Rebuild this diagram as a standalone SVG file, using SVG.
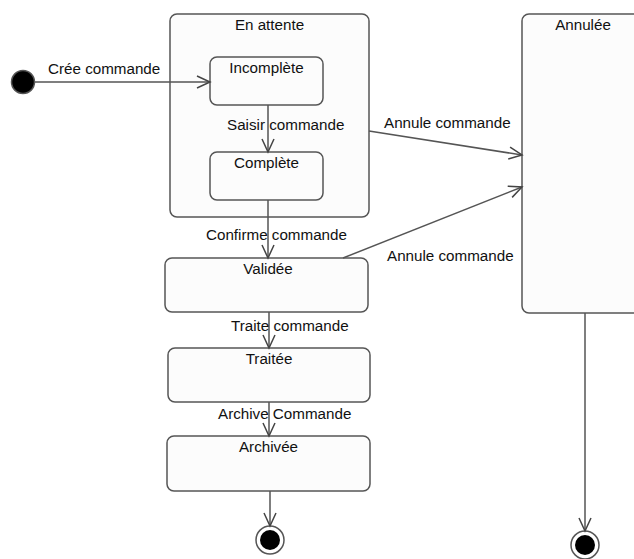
<svg xmlns="http://www.w3.org/2000/svg" width="634" height="559" viewBox="0 0 634 559">
<defs>
<marker id="arr" markerWidth="20" markerHeight="20" refX="14" refY="7" orient="auto" markerUnits="userSpaceOnUse">
<path d="M1,1 L14,7 L1,13" fill="none" stroke="#444" stroke-width="1.5"/>
</marker>
<style>
.st{fill:#fcfcfc;stroke:#555;stroke-width:1.5}
.t{font-family:"Liberation Sans",Arial,sans-serif;font-size:15.2px;fill:#111}
.c{stroke:#555;stroke-width:1.5;fill:none}
</style>
</defs>
<rect width="634" height="559" fill="#fff"/>
<g id="initial"><circle cx="23" cy="82" r="11.5" fill="#000" stroke="#555" stroke-width="1.5"/></g>
<g id="en-attente"><rect class="st" x="170" y="14" width="199" height="203" rx="7"/><text class="t" x="269.5" y="30" text-anchor="middle">En attente</text></g>
<g id="incomplete"><rect class="st" x="210" y="57" width="113" height="48" rx="7"/><text class="t" x="266.5" y="73" text-anchor="middle">Incomplète</text></g>
<g id="complete"><rect class="st" x="210" y="152" width="113" height="48" rx="7"/><text class="t" x="266.5" y="168" text-anchor="middle">Complète</text></g>
<g id="annulee"><rect class="st" x="522" y="14" width="130" height="299" rx="7"/><text class="t" x="583" y="30" text-anchor="middle">Annulée</text></g>
<g id="validee"><rect class="st" x="165" y="258" width="203" height="54" rx="7"/><text class="t" x="268" y="274" text-anchor="middle">Validée</text></g>
<g id="traitee"><rect class="st" x="168" y="348" width="202" height="54" rx="7"/><text class="t" x="269" y="364" text-anchor="middle">Traitée</text></g>
<g id="archivee"><rect class="st" x="167" y="436" width="203" height="55" rx="7"/><text class="t" x="268.5" y="452" text-anchor="middle">Archivée</text></g>
<g id="final1"><circle cx="270" cy="540" r="14" fill="#fff" stroke="#555" stroke-width="1.5"/><circle cx="270" cy="540" r="10" fill="#000"/></g>
<g id="final2"><circle cx="585" cy="545" r="14" fill="#fff" stroke="#555" stroke-width="1.5"/><circle cx="585" cy="545" r="10" fill="#000"/></g>
<g id="connectors">
<line class="c" x1="35" y1="82" x2="210" y2="82" marker-end="url(#arr)"/>
<line class="c" x1="268" y1="105" x2="268" y2="152" marker-end="url(#arr)"/>
<line class="c" x1="369" y1="131" x2="522" y2="155" marker-end="url(#arr)"/>
<line class="c" x1="268" y1="200" x2="268" y2="258" marker-end="url(#arr)"/>
<line class="c" x1="343" y1="258" x2="522" y2="187" marker-end="url(#arr)"/>
<line class="c" x1="269" y1="312" x2="269" y2="348" marker-end="url(#arr)"/>
<line class="c" x1="269" y1="402" x2="269" y2="436" marker-end="url(#arr)"/>
<line class="c" x1="270" y1="491" x2="270" y2="526" marker-end="url(#arr)"/>
<line class="c" x1="585" y1="313" x2="585" y2="531" marker-end="url(#arr)"/>
<text class="t" x="48" y="74">Crée commande</text>
<text class="t" x="227" y="130">Saisir commande</text>
<text class="t" x="384" y="128">Annule commande</text>
<text class="t" x="206" y="240">Confirme commande</text>
<text class="t" x="387" y="261">Annule commande</text>
<text class="t" x="231" y="331">Traite commande</text>
<text class="t" x="218" y="419">Archive Commande</text>
</g>
</svg>
